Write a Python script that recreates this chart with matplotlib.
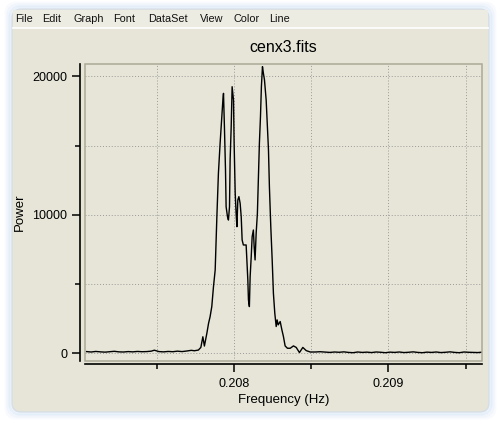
import matplotlib
matplotlib.use("Agg")
import matplotlib.pyplot as plt
from matplotlib.patches import FancyBboxPatch, Rectangle

plt.rcParams['font.family'] = ['Liberation Sans', 'DejaVu Sans']

# spectrum
freq_left = [0.20704, 0.20707, 0.20710, 0.20713, 0.20716, 0.20719, 0.20722,
             0.20725, 0.20728, 0.20731, 0.20734, 0.20737, 0.20740, 0.20743,
             0.20746, 0.20748, 0.20751, 0.20754, 0.20757, 0.20760, 0.20763,
             0.20766, 0.20769, 0.20772, 0.20774]
power_left = [120, 90, 130, 100, 80, 110, 140, 100, 90, 120, 100, 130, 110, 120,
              150, 220, 120, 100, 130, 110, 150, 120, 160, 210, 180]

freq_peak = [0.207766, 0.207782, 0.207795, 0.207805, 0.207821, 0.207832, 0.207842,
             0.207853, 0.207864, 0.207875, 0.207886, 0.207896, 0.207907, 0.207918,
             0.207925, 0.207929, 0.207935, 0.207942, 0.207946, 0.207955, 0.207961,
             0.207968, 0.207972, 0.207979, 0.207985, 0.207994, 0.207998, 0.208005,
             0.208011, 0.208016, 0.208022, 0.208029, 0.208037, 0.208044, 0.208050,
             0.208058, 0.208076, 0.208081, 0.208087, 0.208091, 0.208097, 0.208102,
             0.208109, 0.208115, 0.208123, 0.208128, 0.208134, 0.208141, 0.208149,
             0.208156, 0.208162, 0.208169, 0.208175, 0.208182, 0.208188, 0.208195,
             0.208206, 0.208214, 0.208221, 0.208227, 0.208236, 0.208245, 0.208253,
             0.208262, 0.208271, 0.208277, 0.208284, 0.208297, 0.208308, 0.208318,
             0.208329, 0.208344, 0.208362, 0.208383, 0.208401, 0.208422, 0.208444,
             0.208466, 0.208492, 0.208524, 0.208556]
power_peak = [230, 420, 1190, 520, 1440, 2160, 2640,
              3370, 4810, 6010, 9860, 12990, 15160, 17080,
              18280, 18770, 16360, 13230, 10580, 9860, 9620,
              10580, 13950, 16360, 19250, 18280, 15160, 11550,
              10100, 9140, 11070, 11310, 10830, 9860, 8180,
              7820, 7820, 6740, 5290, 3850, 3370, 5540,
              6980, 8420, 8900, 7700, 6740, 8660, 10100,
              12750, 15160, 17080, 19250, 20700, 20220, 19740,
              18280, 16360, 14680, 12030, 9140, 6740, 4330,
              2890, 1930, 2410, 2050, 2290, 1690, 1210,
              530, 360, 360, 530, 420, 50, 420,
              190, 90, 90, 110]

freq_right = [0.20859, 0.20862, 0.20865, 0.20868, 0.20871, 0.20874, 0.20877,
              0.20880, 0.20883, 0.20886, 0.20889, 0.20892, 0.20895, 0.20898,
              0.20901, 0.20904, 0.20907, 0.20910, 0.20913, 0.20916, 0.20919,
              0.20922, 0.20925, 0.20928, 0.20931, 0.20934, 0.20937, 0.20940,
              0.20943, 0.20946, 0.20949, 0.20952, 0.20955, 0.20958, 0.20961]
power_right = [80, 60, 90, 70, 100, 60, 40, 90, 60, 80, 50, 90, 70, 40,
               80, 60, 90, 50, 70, 100, 60, 40, 80, 60, 90, 50, 70, 100,
               60, 40, 90, 70, 60, 50, 80]

freq = freq_left + freq_peak + freq_right
power = power_left + power_peak + power_right

menu_items = ["File", "Edit", "Graph", "Font", "DataSet", "View", "Color", "Line"]
menu_x = [15, 42, 73, 113, 148, 200, 233, 269]

beige = "#E6E5D7"

fig = plt.figure(figsize=(5.0, 4.23), dpi=100)
fig.patch.set_facecolor("white")

# window frame drawn in pixel coordinates
bg = fig.add_axes([0, 0, 1, 1], zorder=-1)
bg.set_xlim(0, 500)
bg.set_ylim(423, 0)
bg.axis("off")
for grow, a in [(6, 0.1), (4, 0.2), (2, 0.35)]:
    bg.add_patch(FancyBboxPatch((12 - grow, 9 - grow), 477 + 2 * grow, 403 + 2 * grow,
                                boxstyle="round,pad=0,rounding_size=10",
                                facecolor="none", edgecolor="#BFD6F2", lw=2, alpha=a))
bg.add_patch(FancyBboxPatch((12, 9), 477, 403, boxstyle="round,pad=0,rounding_size=9",
                            facecolor=beige, edgecolor="#D5DDE8", lw=1))
bg.add_patch(Rectangle((13, 10), 475, 18, facecolor="#EDECE2", edgecolor="none"))
bg.plot([13, 488], [28.5, 28.5], color="white", lw=1.2)
for name, mx in zip(menu_items, menu_x):
    bg.text(mx, 18.5, name, fontsize=7.8, va="center", ha="left", color="#111111")

ax = fig.add_axes([85 / 500, 1 - 361 / 423, 397 / 500, 297 / 423])
ax.set_facecolor(beige)
ax.plot(freq, power, color="black", lw=1.0, zorder=3)

ax.set_xlim(0.207030, 0.209607)
ax.set_ylim(-560, 20890)

ax.set_xticks([0.208, 0.209])
ax.set_xticklabels(["0.208", "0.209"])
ax.set_xticks([0.2075, 0.2085, 0.2095], minor=True)
ax.set_yticks([0, 10000, 20000])
ax.set_yticklabels(["0", "10000", "20000"])
ax.set_yticks([5000, 15000], minor=True)

ax.grid(which="both", color="#9A9A9A", ls=(0, (1, 2)), lw=0.7)
ax.set_axisbelow(True)

for side in ["top", "right"]:
    ax.spines[side].set_visible(False)
ax.spines["left"].set_position(("outward", 3.6))
ax.spines["bottom"].set_position(("outward", 2.4))
ax.spines["left"].set_linewidth(1.2)
ax.spines["bottom"].set_linewidth(1.2)
ax.add_patch(Rectangle((0, 0), 1, 1, transform=ax.transAxes, fill=False,
                       edgecolor="#ABA997", lw=1.1, clip_on=False, zorder=4))

ax.tick_params(which="major", direction="out", length=6, width=1.1, labelsize=9, pad=3)
ax.tick_params(which="minor", direction="out", length=3.5, width=1.1)
ax.tick_params(axis="x", pad=4)

ax.set_title("cenx3.fits", fontsize=11.5, pad=9)
ax.set_xlabel("Frequency (Hz)", fontsize=9.5, labelpad=3)
ax.set_ylabel("Power", fontsize=9.5, labelpad=5)

fig.savefig("out.png", dpi=100, facecolor=fig.get_facecolor())
